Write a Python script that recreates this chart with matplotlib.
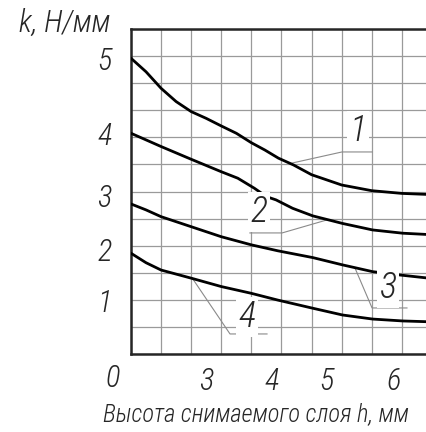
import matplotlib.pyplot as plt
import matplotlib.font_manager as fm

# --- data in grid cells (1 column / 1 row per cell) ---
x1 = [0, 0.5, 1, 1.5, 2, 2.5, 3, 3.5, 4, 4.45, 4.9, 5.4, 6, 7, 8, 9, 9.9]
y1 = [10.92, 10.42, 9.81, 9.32, 8.95, 8.70, 8.42, 8.15, 7.80, 7.53, 7.23, 6.98, 6.62, 6.24, 6.03, 5.93, 5.89]
x2 = [0, 1, 2, 3, 3.55, 4.1, 4.5, 4.82, 5.37, 6.04, 7.03, 8.03, 9.03, 9.9]
y2 = [8.15, 7.66, 7.19, 6.73, 6.49, 6.12, 5.81, 5.69, 5.38, 5.10, 4.82, 4.58, 4.46, 4.41]
x3 = [0, 0.5, 1, 2, 3, 4, 4.88, 6.04, 7.03, 8.03, 8.91, 9.9]
y3 = [5.54, 5.32, 5.07, 4.70, 4.33, 4.03, 3.81, 3.56, 3.29, 3.04, 2.92, 2.80]
x4 = [0, 0.5, 1, 2, 3, 4, 4.88, 6.04, 7.03, 8.03, 9.03, 9.9]
y4 = [3.72, 3.37, 3.10, 2.80, 2.49, 2.24, 1.99, 1.69, 1.44, 1.29, 1.22, 1.19]

x_tick_pos = [2.52, 4.68, 6.51, 8.74]
x_tick_labels = ['3', '4', '5', '6']
y_tick_pos = [1.99, 3.88, 5.87, 8.16, 10.93]
y_tick_labels = ['1', '2', '3', '4', '5']

# curve numbers and their leader lines
curve_names = ['1', '2', '3', '4']
label_xy = [(7.54, 8.23), (4.25, 5.24), (8.54, 2.44), (3.85, 1.37)]
leader_x = [[5.35, 7.01, 8.01], [6.51, 5.02, 3.95], [7.44, 8.01, 9.17], [2.03, 3.29, 4.52]]
leader_y = [[7.05, 7.46, 7.46], [4.95, 4.47, 4.47], [3.18, 1.70, 1.70], [2.81, 0.74, 0.74]]

# --- pick a narrow font if one is installed ---
fonts = {(f.name, f.stretch) for f in fm.fontManager.ttflist}
names = {n for n, s in fonts}
stretch = 'normal'
if 'Liberation Sans Narrow' in names:
    family = ['Liberation Sans Narrow', 'DejaVu Sans']
elif 'Roboto Condensed' in names:
    family = ['Roboto Condensed', 'DejaVu Sans']
elif ('DejaVu Sans', 'condensed') in fonts or ('DejaVu Sans', 'semi-condensed') in fonts:
    family = ['DejaVu Sans']
    stretch = 'condensed'
else:
    family = ['DejaVu Sans']
plt.rcParams['font.family'] = family
plt.rcParams['font.stretch'] = stretch
plt.rcParams['font.weight'] = 'light'

ink = '#262626'

fig = plt.figure(figsize=(4.27, 4.32), dpi=100)
ax = fig.add_axes([131 / 427, 78 / 432, 316 / 427, 325 / 432])

ax.set_xlim(0, 10.5)
ax.set_ylim(0, 12)

# grid every cell
ax.set_xticks(range(0, 11))
ax.set_yticks(range(0, 13))
ax.tick_params(which='major', length=0, labelbottom=False, labelleft=False)
ax.grid(True, color='#9a9a9a', linewidth=0.9)
ax.set_axisbelow(True)

# number labels sit on minor ticks
ax.set_xticks(x_tick_pos, x_tick_labels, minor=True)
ax.set_yticks(y_tick_pos, y_tick_labels, minor=True)
ax.tick_params(which='minor', length=0, labelsize=22, colors=ink)
ax.tick_params(axis='x', which='minor', pad=9)
ax.tick_params(axis='y', which='minor', pad=14)
for lab in ax.get_xticklabels(minor=True) + ax.get_yticklabels(minor=True):
    lab.set_style('italic')

for side in ['top', 'left', 'bottom']:
    ax.spines[side].set_linewidth(1.8)
    ax.spines[side].set_color(ink)
ax.spines['right'].set_visible(False)

for xs, ys in [(x1, y1), (x2, y2), (x3, y3), (x4, y4)]:
    ax.plot(xs, ys, color='black', linewidth=2.0, solid_joinstyle='round',
            solid_capstyle='round', zorder=3)

for name, (lx, ly), xs, ys in zip(curve_names, label_xy, leader_x, leader_y):
    ax.plot(xs, ys, color='#8a8a8a', linewidth=0.8, zorder=2)
    ax.text(lx, ly, name, fontsize=26, style='italic', ha='center', va='center',
            color=ink, zorder=4,
            bbox=dict(facecolor='white', edgecolor='none', pad=1.5))

ax.text(-0.6, -0.89, '0', fontsize=22, style='italic', ha='center', va='center',
        color=ink, clip_on=False)

ylab = fig.text(65 / 427, 1 - 23 / 432, 'k, Н/мм', fontsize=22, style='italic',
                ha='center', va='center', color=ink)
xlab = fig.text(256 / 427, 1 - 414 / 432, 'Высота снимаемого слоя h, мм', fontsize=19,
                style='italic', ha='center', va='center', color=ink)

# shrink the titles to (about) the width they take in the drawing
renderer = fig.canvas.get_renderer()
for t, target in [(ylab, 110), (xlab, 305)]:
    w = t.get_window_extent(renderer).width
    if w > target:
        t.set_fontsize(t.get_fontsize() * target / w)

fig.savefig('out.png', dpi=100)
